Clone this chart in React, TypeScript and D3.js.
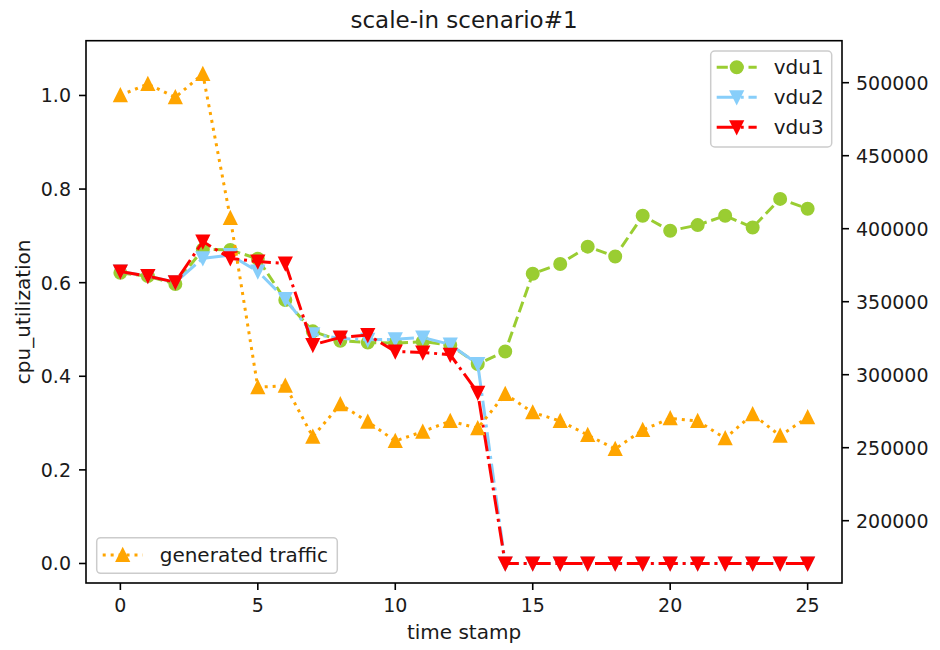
import React from 'react';
import * as d3 from 'd3';

// Time stamps (x axis)
const timeStamps = [0, 1, 2, 3, 4, 5, 6, 7, 8, 9, 10, 11, 12, 13, 14, 15, 16, 17, 18, 19, 20, 21, 22, 23, 24, 25];

// CPU utilization per VDU (left axis)
const vdu1 = [0.621, 0.614, 0.597, 0.671, 0.670, 0.651, 0.563, 0.496, 0.476, 0.472, 0.471, 0.474, 0.467, 0.426, 0.453, 0.619, 0.640, 0.677, 0.656, 0.743, 0.711, 0.723, 0.743, 0.718, 0.779, 0.758];
const vdu2 = [0.624, 0.614, 0.601, 0.652, 0.659, 0.624, 0.565, 0.490, 0.481, 0.478, 0.479, 0.483, 0.468, 0.426, 0, 0, 0, 0, 0, 0, 0, 0, 0, 0, 0, 0];
const vdu3 = [0.624, 0.614, 0.601, 0.688, 0.652, 0.645, 0.641, 0.467, 0.483, 0.488, 0.453, 0.451, 0.446, 0.365, 0, 0, 0, 0, 0, 0, 0, 0, 0, 0, 0, 0];

// Generated traffic (right axis)
const traffic = [491400, 499100, 490000, 506000, 407300, 291400, 292500, 257500, 279700, 267800, 254600, 261000, 268300, 263300, 286800, 274200, 268300, 258700, 249100, 262100, 270100, 268300, 256400, 272900, 258200, 270800];

// Tick labels
const xTicks = [0, 5, 10, 15, 20, 25];
const leftTicks = [0.0, 0.2, 0.4, 0.6, 0.8, 1.0];
const rightTicks = [200000, 250000, 300000, 350000, 400000, 450000, 500000];

const FONT = '"DejaVu Sans", sans-serif';
const TEXT = '#1a1a1a';

const plot = { left: 86, right: 842, top: 40.7, bottom: 583 };

const x = d3.scaleLinear().domain([-1.25, 26.25]).range([plot.left, plot.right]);
const yL = d3.scaleLinear().domain([-0.0417, 1.117]).range([plot.bottom, plot.top]);
const yR = d3.scaleLinear().domain([157329, 528767]).range([plot.bottom, plot.top]);

type Marker = 'circle' | 'up' | 'down';

function MarkerShape({ kind, cx, cy, color }: { kind: Marker; cx: number; cy: number; color: string }) {
  const s = 6;
  if (kind === 'circle') {
    return <circle cx={cx} cy={cy} r={s} fill={color} stroke={color} strokeWidth={2} />;
  }
  const pts =
    kind === 'up'
      ? [[cx, cy - s], [cx - s, cy + s], [cx + s, cy + s]]
      : [[cx, cy + s], [cx - s, cy - s], [cx + s, cy - s]];
  return (
    <polygon
      points={pts.map((p) => p.join(',')).join(' ')}
      fill={color}
      stroke={color}
      strokeWidth={2}
      strokeLinejoin="miter"
    />
  );
}

const dashed = '11.1,4.8';
const dashDot = '19.2,4.8,3,4.8';
const dotted = '3,4.95';

type Series = { name: string; values: number[]; color: string; dash: string; marker: Marker; axis: 'L' | 'R' };

const seriesList: Series[] = [
  { name: 'vdu1', values: vdu1, color: '#9ACD32', dash: dashed, marker: 'circle', axis: 'L' },
  { name: 'vdu2', values: vdu2, color: '#87CEFA', dash: dashDot, marker: 'down', axis: 'L' },
  { name: 'vdu3', values: vdu3, color: '#FF0000', dash: dashDot, marker: 'down', axis: 'L' },
  { name: 'generated traffic', values: traffic, color: '#FFA500', dash: dotted, marker: 'up', axis: 'R' },
];

function SeriesLine({ s }: { s: Series }) {
  const yScale = s.axis === 'L' ? yL : yR;
  const line = d3
    .line<number>()
    .x((_, i) => x(timeStamps[i]))
    .y((d) => yScale(d));
  return (
    <g>
      <path d={line(s.values) || ''} fill="none" stroke={s.color} strokeWidth={3} strokeDasharray={s.dash} />
      {s.values.map((v, i) => (
        <MarkerShape key={i} kind={s.marker} cx={x(timeStamps[i])} cy={yScale(v)} color={s.color} />
      ))}
    </g>
  );
}

function LegendEntry({ s, lx, cy }: { s: Series; lx: number; cy: number }) {
  return (
    <g>
      <line x1={lx} x2={lx + 40} y1={cy} y2={cy} stroke={s.color} strokeWidth={3} strokeDasharray={s.dash} />
      <MarkerShape kind={s.marker} cx={lx + 20} cy={cy} color={s.color} />
      <text x={lx + 57} y={cy + 7} fontSize={20} fontFamily={FONT} fill={TEXT}>
        {s.name}
      </text>
    </g>
  );
}

export default function App() {
  const vdus = seriesList.slice(0, 3);
  const gen = seriesList[3];
  return (
    <svg
      width={940}
      height={650}
      style={{ position: 'absolute', left: 0, top: 0, background: '#fff' }}
      xmlns="http://www.w3.org/2000/svg"
    >
      <rect x={0} y={0} width={940} height={650} fill="#fff" />

      {/* title */}
      <text x={(plot.left + plot.right) / 2} y={28} textAnchor="middle" fontSize={23} fontFamily={FONT} fill={TEXT}>
        scale-in scenario#1
      </text>

      {/* data lines */}
      {vdus.map((s) => (
        <SeriesLine key={s.name} s={s} />
      ))}

      {/* legend for the VDU series */}
      <g>
        <rect x={710.7} y={51} width={121} height={96} rx={4} fill="#fff" fillOpacity={0.8} stroke="#cccccc" strokeWidth={1.5} />
        {vdus.map((s, i) => (
          <LegendEntry key={s.name} s={s} lx={716.7} cy={67.3 + i * 30} />
        ))}
      </g>

      <SeriesLine s={gen} />

      {/* legend for the traffic series */}
      <g>
        <rect x={96.7} y={537.7} width={240.6} height={35.6} rx={4} fill="#fff" fillOpacity={0.8} stroke="#cccccc" strokeWidth={1.5} />
        <LegendEntry s={gen} lx={102.7} cy={555} />
      </g>

      {/* frame */}
      <rect
        x={plot.left}
        y={plot.top}
        width={plot.right - plot.left}
        height={plot.bottom - plot.top}
        fill="none"
        stroke="#000"
        strokeWidth={1.6}
      />

      {/* x axis */}
      <g>
        {xTicks.map((t) => (
          <g key={t}>
            <line x1={x(t)} x2={x(t)} y1={plot.bottom} y2={plot.bottom + 7} stroke="#000" strokeWidth={1.6} />
            <text x={x(t)} y={612} textAnchor="middle" fontSize={19} fontFamily={FONT} fill={TEXT}>
              {t}
            </text>
          </g>
        ))}
        <text x={(plot.left + plot.right) / 2} y={639} textAnchor="middle" fontSize={20} fontFamily={FONT} fill={TEXT}>
          time stamp
        </text>
      </g>

      {/* left axis */}
      <g>
        {leftTicks.map((t) => (
          <g key={t}>
            <line x1={plot.left - 7} x2={plot.left} y1={yL(t)} y2={yL(t)} stroke="#000" strokeWidth={1.6} />
            <text x={plot.left - 15} y={yL(t) + 7} textAnchor="end" fontSize={19} fontFamily={FONT} fill={TEXT}>
              {t.toFixed(1)}
            </text>
          </g>
        ))}
        <text
          transform={`translate(30, ${(plot.top + plot.bottom) / 2}) rotate(-90)`}
          textAnchor="middle"
          fontSize={20}
          fontFamily={FONT}
          fill={TEXT}
        >
          cpu_utilization
        </text>
      </g>

      {/* right axis */}
      <g>
        {rightTicks.map((t) => (
          <g key={t}>
            <line x1={plot.right} x2={plot.right + 7} y1={yR(t)} y2={yR(t)} stroke="#000" strokeWidth={1.6} />
            <text x={plot.right + 14} y={yR(t) + 7} textAnchor="start" fontSize={19} fontFamily={FONT} fill={TEXT}>
              {t}
            </text>
          </g>
        ))}
      </g>
    </svg>
  );
}
